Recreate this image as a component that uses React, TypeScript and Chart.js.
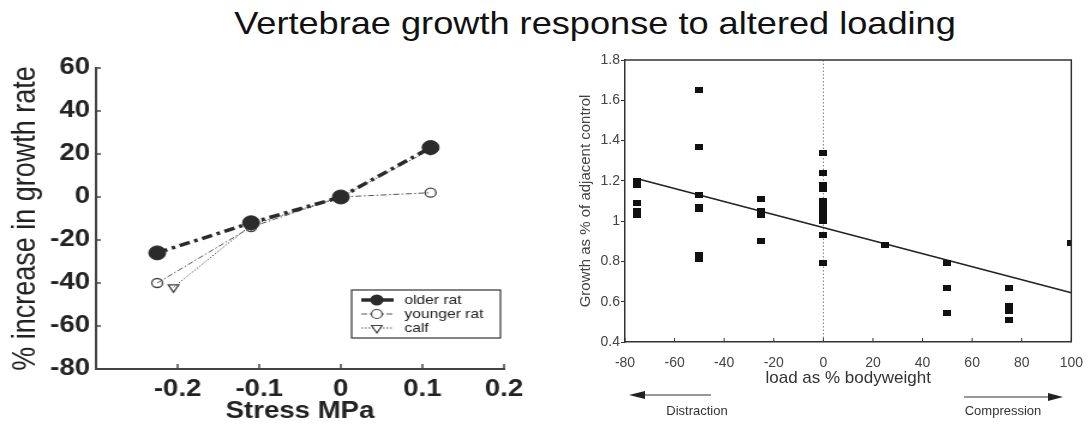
import React, { useEffect, useRef } from 'react';
import { Chart, registerables } from 'chart.js';

Chart.register(...registerables);

// ---------- Left panel data ----------
const stressOlder = [-0.225, -0.11, 0, 0.11];
const growthOlder = [-26, -12, 0, 23];
const stressYounger = [-0.225, -0.11, 0, 0.11];
const growthYounger = [-40, -14, 0, 2];
const stressCalf = [-0.205, -0.11, 0, 0.11];
const growthCalf = [-42, -13, 0, 22];
const seriesNames = ['older rat', 'younger rat', 'calf'];

// ---------- Right panel data ----------
const loadPct = [
  -75, -75, -75, -75, -75,
  -50, -50, -50, -50, -50, -50, -50,
  -25, -25, -25, -25,
  0, 0, 0, 0, 0, 0, 0, 0, 0, 0, 0, 0,
  25,
  50, 50, 50,
  75, 75, 75, 75,
  100,
];
const growthRatio = [
  1.2, 1.18, 1.09, 1.05, 1.03,
  1.65, 1.37, 1.13, 1.07, 1.06, 0.83, 0.81,
  1.11, 1.05, 1.03, 0.9,
  1.34, 1.24, 1.18, 1.16, 1.1, 1.08, 1.06, 1.04, 1.02, 1.0, 0.93, 0.79,
  0.88,
  0.79, 0.67, 0.545,
  0.67, 0.58, 0.555, 0.51,
  0.89,
];
const fitLoad = [-75, 100];
const fitGrowth = [1.21, 0.645];

const FONT = "Arial, 'Liberation Sans', Helvetica, sans-serif";
const STRETCH = 1.2;

function zip(xs: number[], ys: number[]) {
  return xs.map((x, i) => ({ x, y: ys[i] }));
}

function drawDownTriangle(ctx: CanvasRenderingContext2D, cx: number, cy: number, r: number) {
  ctx.beginPath();
  ctx.moveTo(cx, cy + r);
  ctx.lineTo(cx - r * 0.87, cy - r / 2);
  ctx.lineTo(cx + r * 0.87, cy - r / 2);
  ctx.closePath();
}

function LeftChart() {
  const ref = useRef<HTMLCanvasElement>(null);
  useEffect(() => {
    const decor = {
      id: 'leftDecor',
      afterDraw(chart: any) {
        const { ctx, chartArea: ca, scales } = chart;
        const x = scales.x;
        const y = scales.y;
        ctx.save();
        ctx.strokeStyle = '#444';
        ctx.lineWidth = 1.5;
        x.ticks.forEach((t: any) => {
          if (t.value < -0.25) return;
          const px = x.getPixelForValue(t.value);
          ctx.beginPath();
          ctx.moveTo(px, ca.bottom);
          ctx.lineTo(px, ca.bottom - 5);
          ctx.stroke();
        });
        y.ticks.forEach((t: any) => {
          const py = y.getPixelForValue(t.value);
          ctx.beginPath();
          ctx.moveTo(ca.left, py);
          ctx.lineTo(ca.left + 4, py);
          ctx.stroke();
        });

        // legend box
        const bx = 293, by = 250, bw = 124, bh = 48;
        ctx.fillStyle = '#ffffff';
        ctx.fillRect(bx, by, bw, bh);
        ctx.strokeStyle = '#333';
        ctx.lineWidth = 1.2;
        ctx.strokeRect(bx, by, bw, bh);
        const rows = [260, 274, 288];
        const l0 = 301, l1 = 328, mx = 314;
        ctx.font = `13px ${FONT}`;
        ctx.textBaseline = 'middle';
        ctx.textAlign = 'left';
        rows.forEach((ry, i) => {
          ctx.strokeStyle = i === 0 ? '#2b2b2b' : '#555';
          ctx.lineWidth = i === 0 ? 3.5 : 1;
          ctx.setLineDash(i === 0 ? [] : i === 1 ? [5, 2, 1.5, 2] : [1.5, 1.5]);
          ctx.beginPath();
          ctx.moveTo(l0, ry);
          ctx.lineTo(l1, ry);
          ctx.stroke();
          ctx.setLineDash([]);
          if (i === 0) {
            ctx.fillStyle = '#2b2b2b';
            ctx.beginPath();
            ctx.arc(mx, ry, 5.5, 0, Math.PI * 2);
            ctx.fill();
          } else if (i === 1) {
            ctx.fillStyle = '#fff';
            ctx.strokeStyle = '#444';
            ctx.lineWidth = 1.2;
            ctx.beginPath();
            ctx.arc(mx, ry, 4.5, 0, Math.PI * 2);
            ctx.fill();
            ctx.stroke();
          } else {
            ctx.fillStyle = '#fff';
            ctx.strokeStyle = '#444';
            ctx.lineWidth = 1.2;
            drawDownTriangle(ctx, mx, ry, 5);
            ctx.fill();
            ctx.stroke();
          }
          ctx.fillStyle = '#222';
          ctx.fillText(seriesNames[i], 337, ry);
        });
        ctx.restore();
      },
    };

    const chart = new Chart(ref.current as HTMLCanvasElement, {
      type: 'scatter',
      data: {
        datasets: [
          {
            label: seriesNames[0],
            data: zip(stressOlder, growthOlder),
            showLine: true,
            borderColor: '#2b2b2b',
            borderWidth: 3.5,
            borderDash: [9, 4, 3, 4],
            pointStyle: 'circle',
            pointRadius: 7,
            pointBackgroundColor: '#2b2b2b',
            pointBorderColor: '#2b2b2b',
            pointBorderWidth: 1,
          },
          {
            label: seriesNames[1],
            data: zip(stressYounger, growthYounger),
            showLine: true,
            borderColor: '#555',
            borderWidth: 1,
            borderDash: [5, 2, 1.5, 2],
            pointStyle: 'circle',
            pointRadius: 4.5,
            pointBackgroundColor: 'rgba(255,255,255,0)',
            pointBorderColor: '#444',
            pointBorderWidth: 1.3,
          },
          {
            label: seriesNames[2],
            data: zip(stressCalf, growthCalf),
            showLine: true,
            borderColor: '#555',
            borderWidth: 1,
            borderDash: [1.5, 1.5],
            pointStyle: 'triangle',
            rotation: 180,
            pointRadius: 5,
            pointBackgroundColor: 'rgba(255,255,255,0)',
            pointBorderColor: '#444',
            pointBorderWidth: 1.3,
          },
        ],
      } as any,
      options: {
        responsive: false,
        animation: false,
        devicePixelRatio: 1,
        layout: { padding: { top: 28, right: 30, left: 0, bottom: 0 } },
        plugins: { legend: { display: false }, tooltip: { enabled: false } },
        scales: {
          x: {
            type: 'linear',
            min: -0.3,
            max: 0.2,
            afterFit: (s: any) => { s.height = 59; },
            ticks: {
              stepSize: 0.1,
              padding: 7,
              color: '#222',
              font: { family: FONT, size: 23, weight: 'bold' },
              maxRotation: 0,
              autoSkip: false,
              callback: (v: any) => {
                const r = Math.round(Number(v) * 10) / 10;
                if (r < -0.25) return '';
                return String(r);
              },
            },
            grid: { display: false, drawTicks: false },
            border: { display: true, color: '#444', width: 2 },
            title: {
              display: true,
              text: 'Stress MPa',
              color: '#222',
              font: { family: FONT, size: 23, weight: 'bold' },
              padding: { top: 0, bottom: 3 },
            },
          },
          y: {
            type: 'linear',
            min: -80,
            max: 60,
            afterFit: (s: any) => { s.width = 80; },
            ticks: {
              stepSize: 20,
              padding: 5,
              color: '#222',
              font: { family: FONT, size: 23, weight: 'bold' },
            },
            grid: { display: false, drawTicks: false },
            border: { display: true, color: '#444', width: 2 },
            title: {
              display: true,
              text: '% increase in growth rate',
              color: '#222',
              font: { family: FONT, size: 27 },
              padding: { top: 5, bottom: 0 },
            },
          },
        },
      } as any,
      plugins: [decor],
    });
    return () => chart.destroy();
  }, []);
  return (
    <div
      style={{
        position: 'absolute',
        left: 0,
        top: 40,
        width: 450,
        height: 388,
        transform: `scaleX(${STRETCH})`,
        transformOrigin: '0 0',
      }}
    >
      <canvas ref={ref} width={450} height={388} style={{ display: 'block' }} />
    </div>
  );
}

function RightChart() {
  const ref = useRef<HTMLCanvasElement>(null);
  useEffect(() => {
    const sq = document.createElement('canvas');
    sq.width = 8;
    sq.height = 6;
    const sctx = sq.getContext('2d') as CanvasRenderingContext2D;
    sctx.fillStyle = '#111';
    sctx.fillRect(0, 0, 8, 6);

    const decor = {
      id: 'rightDecor',
      beforeDatasetsDraw(chart: any) {
        const { ctx, chartArea: ca, scales } = chart;
        const px = scales.x.getPixelForValue(0);
        ctx.save();
        ctx.strokeStyle = '#777';
        ctx.lineWidth = 1;
        ctx.setLineDash([1.5, 2]);
        ctx.beginPath();
        ctx.moveTo(px, ca.top);
        ctx.lineTo(px, ca.bottom);
        ctx.stroke();
        ctx.restore();
      },
      afterDraw(chart: any) {
        const { ctx, chartArea: ca, scales } = chart;
        const x = scales.x;
        ctx.save();
        ctx.strokeStyle = '#333';
        ctx.lineWidth = 1.5;
        ctx.beginPath();
        ctx.moveTo(ca.left, ca.top);
        ctx.lineTo(ca.right, ca.top);
        ctx.lineTo(ca.right, ca.bottom);
        ctx.stroke();
        ctx.lineWidth = 1;
        x.ticks.forEach((t: any) => {
          const p = x.getPixelForValue(t.value);
          ctx.beginPath();
          ctx.moveTo(p, ca.bottom);
          ctx.lineTo(p, ca.bottom - 4);
          ctx.stroke();
        });

        // arrows
        ctx.fillStyle = '#222';
        ctx.strokeStyle = '#333';
        ctx.lineWidth = 1.2;
        ctx.beginPath();
        ctx.moveTo(104, 355);
        ctx.lineTo(171, 355);
        ctx.stroke();
        ctx.beginPath();
        ctx.moveTo(89, 355);
        ctx.lineTo(105, 351);
        ctx.lineTo(105, 359);
        ctx.closePath();
        ctx.fill();
        ctx.beginPath();
        ctx.moveTo(424, 357);
        ctx.lineTo(509, 357);
        ctx.stroke();
        ctx.beginPath();
        ctx.moveTo(523, 357);
        ctx.lineTo(508, 353);
        ctx.lineTo(508, 361);
        ctx.closePath();
        ctx.fill();

        ctx.font = `13px ${FONT}`;
        ctx.fillStyle = '#333';
        ctx.textAlign = 'center';
        ctx.textBaseline = 'middle';
        ctx.fillText('Distraction', 157, 371);
        ctx.fillText('Compression', 463, 371);
        ctx.restore();
      },
    };

    const chart = new Chart(ref.current as HTMLCanvasElement, {
      type: 'scatter',
      data: {
        datasets: [
          {
            label: 'growth',
            data: zip(loadPct, growthRatio),
            pointStyle: sq,
            pointRadius: 4,
          },
          {
            label: 'fit',
            data: zip(fitLoad, fitGrowth),
            showLine: true,
            borderColor: '#222',
            borderWidth: 1.6,
            pointRadius: 0,
          },
        ],
      } as any,
      options: {
        responsive: false,
        animation: false,
        devicePixelRatio: 1,
        layout: { padding: { top: 20, right: 15, left: 0, bottom: 0 } },
        plugins: { legend: { display: false }, tooltip: { enabled: false } },
        scales: {
          x: {
            type: 'linear',
            min: -80,
            max: 100,
            afterFit: (s: any) => { s.height = 86; },
            ticks: {
              stepSize: 20,
              padding: 5,
              color: '#444',
              font: { family: FONT, size: 14 },
              maxRotation: 0,
              autoSkip: false,
            },
            grid: { display: false },
            border: { display: true, color: '#333', width: 1.5 },
            title: {
              display: true,
              text: 'load as % bodyweight',
              color: '#333',
              font: { family: FONT, size: 17 },
              padding: { top: 0, bottom: 39 },
            },
          },
          y: {
            type: 'linear',
            min: 0.4,
            max: 1.8,
            afterFit: (s: any) => { s.width = 85; },
            ticks: {
              stepSize: 0.2,
              padding: 1,
              color: '#444',
              font: { family: FONT, size: 14 },
              callback: (v: any) => String(Math.round(Number(v) * 10) / 10),
            },
            grid: { display: true, drawOnChartArea: false, drawTicks: true, tickLength: 4, color: '#333' },
            border: { display: true, color: '#333', width: 1.5 },
            title: {
              display: true,
              text: 'Growth as % of adjacent control',
              color: '#444',
              font: { family: FONT, size: 15 },
              padding: { top: 37, bottom: 0 },
            },
          },
        },
      } as any,
      plugins: [decor],
    });
    return () => chart.destroy();
  }, []);
  return (
    <div style={{ position: 'absolute', left: 540, top: 40, width: 548, height: 388 }}>
      <canvas ref={ref} width={548} height={388} style={{ display: 'block' }} />
    </div>
  );
}

export default function App() {
  return (
    <div
      style={{
        position: 'absolute',
        left: 0,
        top: 0,
        width: 1088,
        height: 428,
        background: '#ffffff',
        overflow: 'hidden',
      }}
    >
      <div
        style={{
          position: 'absolute',
          left: 51,
          top: 4,
          width: 1088,
          textAlign: 'center',
          fontFamily: FONT,
          fontSize: 32,
          lineHeight: '38px',
          color: '#111',
          transform: 'scaleX(1.13)',
          transformOrigin: '544px 0',
          whiteSpace: 'nowrap',
        }}
      >
        Vertebrae growth response to altered loading
      </div>
      <LeftChart />
      <RightChart />
    </div>
  );
}
